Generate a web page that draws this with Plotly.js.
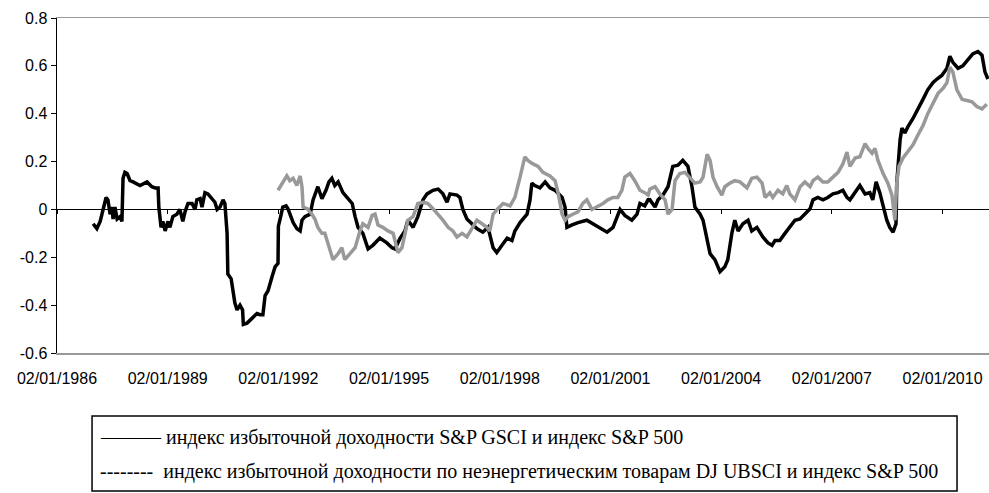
<!DOCTYPE html>
<html>
<head>
<meta charset="utf-8">
<script src="https://cdn.plot.ly/plotly-3.0.1.min.js"></script>
<style>html,body{margin:0;padding:0;background:#fff;}</style>
</head>
<body>
<div id="chart" style="width:989px;height:493px;"></div>
<script>
// Series 1: S&P GSCI excess return index vs S&P 500 (decimal years, values)
const gsciYears = [1986.98,1987.08,1987.17,1987.25,1987.33,1987.38,1987.44,1987.49,1987.52,1987.57,1987.63,1987.71,1987.76,1987.79,1987.84,1987.90,1987.98,1988.06,1988.25,1988.44,1988.57,1988.66,1988.74,1988.76,1988.82,1988.87,1988.93,1989.01,1989.06,1989.14,1989.25,1989.33,1989.41,1989.47,1989.55,1989.66,1989.74,1989.79,1989.88,1989.93,1990.01,1990.09,1990.20,1990.28,1990.34,1990.42,1990.50,1990.55,1990.61,1990.63,1990.72,1990.77,1990.82,1990.88,1990.96,1991.03,1991.05,1991.15,1991.28,1991.42,1991.50,1991.58,1991.64,1991.72,1991.83,1991.91,1991.99,1992.00,1992.04,1992.12,1992.21,1992.26,1992.34,1992.40,1992.50,1992.59,1992.64,1992.72,1992.86,1992.94,1993.07,1993.18,1993.29,1993.37,1993.45,1993.53,1993.62,1993.75,1993.86,1994.00,1994.08,1994.16,1994.29,1994.43,1994.56,1994.75,1994.94,1995.08,1995.16,1995.30,1995.43,1995.51,1995.65,1995.78,1995.92,1996.03,1996.19,1996.33,1996.46,1996.57,1996.65,1996.84,1996.92,1997.00,1997.11,1997.25,1997.38,1997.54,1997.68,1997.82,1997.92,1998.06,1998.20,1998.33,1998.41,1998.55,1998.74,1998.82,1998.87,1998.95,1999.09,1999.23,1999.36,1999.50,1999.58,1999.69,1999.77,1999.82,1999.96,2000.12,2000.36,2000.53,2000.72,2000.91,2001.07,2001.26,2001.39,2001.58,2001.72,2001.80,2001.93,2002.02,2002.07,2002.21,2002.29,2002.42,2002.56,2002.69,2002.83,2002.96,2003.10,2003.21,2003.29,2003.43,2003.51,2003.62,2003.70,2003.83,2003.97,2004.10,2004.18,2004.29,2004.37,2004.46,2004.59,2004.73,2004.83,2004.97,2005.13,2005.27,2005.38,2005.46,2005.59,2005.73,2005.86,2006.00,2006.14,2006.27,2006.41,2006.49,2006.62,2006.76,2006.89,2007.03,2007.17,2007.30,2007.41,2007.49,2007.63,2007.76,2007.90,2008.03,2008.11,2008.20,2008.30,2008.39,2008.49,2008.57,2008.66,2008.74,2008.76,2008.85,2008.90,2008.98,2009.06,2009.20,2009.33,2009.47,2009.60,2009.74,2009.85,2009.98,2010.12,2010.20,2010.28,2010.42,2010.55,2010.69,2010.82,2010.96,2011.07,2011.15,2011.23];
const gsciValues = [-0.06,-0.08,-0.05,0.0,0.05,0.04,-0.02,0.01,-0.04,0.01,-0.04,-0.03,-0.05,0.13,0.155,0.15,0.12,0.115,0.10,0.115,0.095,0.09,0.09,0.01,-0.075,-0.05,-0.09,-0.05,-0.075,-0.03,-0.02,0.0,-0.05,-0.01,0.025,0.025,0.0,0.04,0.045,0.01,0.07,0.065,0.045,0.03,0.0,0.01,0.04,0.025,-0.10,-0.27,-0.29,-0.35,-0.39,-0.42,-0.40,-0.42,-0.48,-0.475,-0.455,-0.435,-0.44,-0.44,-0.36,-0.34,-0.28,-0.24,-0.225,-0.07,-0.045,0.01,0.015,0.003,-0.03,-0.055,-0.08,-0.09,-0.045,-0.03,-0.02,0.04,0.095,0.045,0.08,0.115,0.13,0.10,0.115,0.07,0.05,0.025,-0.03,-0.075,-0.10,-0.165,-0.15,-0.12,-0.14,-0.16,-0.165,-0.12,-0.09,-0.045,-0.075,-0.03,0.04,0.065,0.08,0.085,0.065,0.03,0.065,0.06,0.05,0.0,-0.04,-0.06,-0.08,-0.095,-0.075,-0.16,-0.18,-0.15,-0.12,-0.13,-0.09,-0.055,-0.02,0.04,0.11,0.10,0.09,0.115,0.09,0.08,0.065,0.05,0.01,-0.075,-0.065,-0.055,-0.045,-0.06,-0.075,-0.095,-0.075,0.0,-0.025,-0.045,-0.02,0.025,0.015,0.04,0.04,0.01,0.04,0.06,0.095,0.18,0.185,0.205,0.18,0.095,0.01,-0.02,-0.045,-0.13,-0.185,-0.21,-0.26,-0.24,-0.21,-0.10,-0.045,-0.09,-0.06,-0.045,-0.09,-0.075,-0.115,-0.14,-0.15,-0.13,-0.13,-0.10,-0.075,-0.045,-0.04,-0.02,0.003,0.04,0.05,0.04,0.05,0.065,0.07,0.08,0.05,0.04,0.07,0.10,0.065,0.07,0.04,0.115,0.07,0.01,-0.045,-0.075,-0.095,-0.06,0.11,0.29,0.34,0.32,0.345,0.38,0.415,0.46,0.50,0.53,0.545,0.56,0.59,0.64,0.615,0.59,0.60,0.625,0.65,0.66,0.645,0.575,0.545];

// Series 2: DJ UBSCI non-energy excess return index vs S&P 500
const ubsciYears = [1991.99,1992.10,1992.23,1992.31,1992.40,1992.50,1992.59,1992.64,1992.67,1992.78,1992.91,1992.99,1993.07,1993.18,1993.26,1993.34,1993.48,1993.62,1993.72,1993.80,1993.94,1994.08,1994.21,1994.29,1994.43,1994.54,1994.62,1994.70,1994.83,1994.97,1995.11,1995.24,1995.35,1995.43,1995.51,1995.65,1995.78,1995.92,1996.05,1996.19,1996.33,1996.46,1996.60,1996.73,1996.84,1996.98,1997.11,1997.25,1997.38,1997.52,1997.65,1997.73,1997.82,1997.95,1998.09,1998.28,1998.41,1998.55,1998.68,1998.76,1998.90,1999.04,1999.17,1999.36,1999.50,1999.58,1999.69,1999.77,1999.85,1999.98,2000.12,2000.25,2000.36,2000.50,2000.63,2000.80,2000.93,2001.07,2001.20,2001.31,2001.39,2001.53,2001.66,2001.80,2001.93,2002.02,2002.07,2002.21,2002.34,2002.48,2002.56,2002.67,2002.75,2002.88,2003.02,2003.15,2003.29,2003.43,2003.51,2003.62,2003.70,2003.78,2003.89,2004.02,2004.10,2004.24,2004.37,2004.51,2004.70,2004.83,2004.97,2005.11,2005.19,2005.32,2005.40,2005.54,2005.67,2005.78,2005.86,2006.00,2006.14,2006.27,2006.41,2006.49,2006.62,2006.76,2006.89,2007.03,2007.17,2007.30,2007.41,2007.49,2007.63,2007.76,2007.90,2007.98,2008.09,2008.17,2008.25,2008.39,2008.52,2008.63,2008.71,2008.76,2008.82,2008.93,2009.06,2009.20,2009.33,2009.47,2009.60,2009.74,2009.88,2010.01,2010.12,2010.20,2010.28,2010.39,2010.53,2010.66,2010.80,2010.93,2011.07,2011.20];
const ubsciValues = [0.08,0.11,0.14,0.12,0.13,0.10,0.14,0.095,0.01,0.003,-0.02,-0.04,-0.075,-0.10,-0.10,-0.14,-0.21,-0.185,-0.16,-0.21,-0.185,-0.16,-0.09,-0.06,-0.075,-0.025,-0.02,-0.065,-0.075,-0.09,-0.10,-0.18,-0.16,-0.10,-0.045,-0.03,0.025,0.03,0.025,0.003,-0.02,-0.045,-0.075,-0.09,-0.115,-0.10,-0.115,-0.075,-0.045,-0.06,-0.075,-0.09,-0.02,0.003,0.025,0.015,0.05,0.135,0.22,0.205,0.19,0.18,0.155,0.14,0.12,0.07,-0.02,-0.045,-0.03,-0.02,-0.01,0.025,0.04,0.0,0.01,0.025,0.04,0.05,0.05,0.08,0.135,0.15,0.12,0.08,0.07,0.06,0.085,0.095,0.065,0.04,-0.02,0.0,0.12,0.15,0.155,0.135,0.11,0.115,0.135,0.23,0.205,0.135,0.095,0.06,0.095,0.11,0.12,0.115,0.09,0.13,0.135,0.11,0.05,0.07,0.05,0.08,0.065,0.10,0.065,0.04,0.095,0.115,0.095,0.12,0.135,0.115,0.115,0.135,0.155,0.19,0.24,0.18,0.215,0.22,0.275,0.255,0.235,0.255,0.205,0.15,0.11,0.06,-0.045,0.11,0.18,0.215,0.24,0.27,0.31,0.35,0.40,0.44,0.485,0.505,0.53,0.595,0.575,0.50,0.46,0.455,0.45,0.43,0.42,0.44];

const tickYears = [1986,1989,1992,1995,1998,2001,2004,2007,2010];
const tickLabels = ['02/01/1986','02/01/1989','02/01/1992','02/01/1995','02/01/1998','02/01/2001','02/01/2004','02/01/2007','02/01/2010'];
const yTickVals = [-0.6,-0.4,-0.2,0,0.2,0.4,0.6,0.8];
const yTickText = ['-0.6','-0.4','-0.2','0','0.2','0.4','0.6','0.8'];
const legendLabels = [
  '——— индекс избыточной доходности S&P GSCI и индекс S&P 500',
  '--------  индекс избыточной доходности по неэнергетическим товарам DJ UBSCI и индекс S&P 500'
];

const xRange = [1986, 2011.26];
const yRange = [-0.6, 0.8];
const zeroPos = (0 - yRange[0]) / (yRange[1] - yRange[0]);

const traces = [
  {x: gsciYears, y: gsciValues, type: 'scatter', mode: 'lines', xaxis: 'x', yaxis: 'y',
   line: {color: '#000000', width: 3.5}, hoverinfo: 'skip'},
  {x: ubsciYears, y: ubsciValues, type: 'scatter', mode: 'lines', xaxis: 'x2', yaxis: 'y',
   line: {color: '#999999', width: 3.5}, hoverinfo: 'skip'}
];

const tickFont = {family: 'Liberation Sans, Arial, sans-serif', size: 16, color: '#000'};
const legendFont = {family: 'Liberation Serif, Times New Roman, serif', size: 20, color: '#000'};

const layout = {
  width: 989, height: 493,
  margin: {l: 57, r: 0, t: 18, b: 140},
  paper_bgcolor: '#fff', plot_bgcolor: '#fff',
  showlegend: false,
  xaxis: {
    range: xRange, tickvals: tickYears, ticktext: tickLabels,
    showline: true, linecolor: '#999999', linewidth: 1.5, mirror: true,
    ticks: '', showgrid: false, zeroline: false,
    tickfont: tickFont, ticklabelstandoff: 10
  },
  xaxis2: {
    overlaying: 'x', anchor: 'free', position: zeroPos,
    range: xRange, tickvals: tickYears,
    showline: true, linecolor: '#000', linewidth: 1,
    ticks: 'outside', ticklen: 4, tickcolor: '#000', tickwidth: 1,
    showticklabels: false, showgrid: false, zeroline: false, layer: 'below traces'
  },
  yaxis: {
    range: yRange, tickvals: yTickVals, ticktext: yTickText,
    showline: true, linecolor: '#000', linewidth: 1.5,
    ticks: 'outside', ticklen: 5, tickcolor: '#000', tickwidth: 1,
    showgrid: false, zeroline: false, tickfont: tickFont
  },
  shapes: [
    {type: 'rect', xref: 'paper', yref: 'paper',
     x0: 0.0376, x1: 0.9657, y0: -0.188, y1: -0.412,
     line: {color: '#000', width: 1.5}, fillcolor: 'rgba(0,0,0,0)'}
  ],
  annotations: [
    {text: legendLabels[0], xref: 'paper', yref: 'paper', x: 0.044, y: -0.2537,
     xanchor: 'left', yanchor: 'middle', showarrow: false, font: legendFont},
    {text: legendLabels[1], xref: 'paper', yref: 'paper', x: 0.044, y: -0.3552,
     xanchor: 'left', yanchor: 'middle', showarrow: false, font: legendFont}
  ]
};

Plotly.newPlot('chart', traces, layout, {staticPlot: true, displayModeBar: false});
</script>
</body>
</html>
